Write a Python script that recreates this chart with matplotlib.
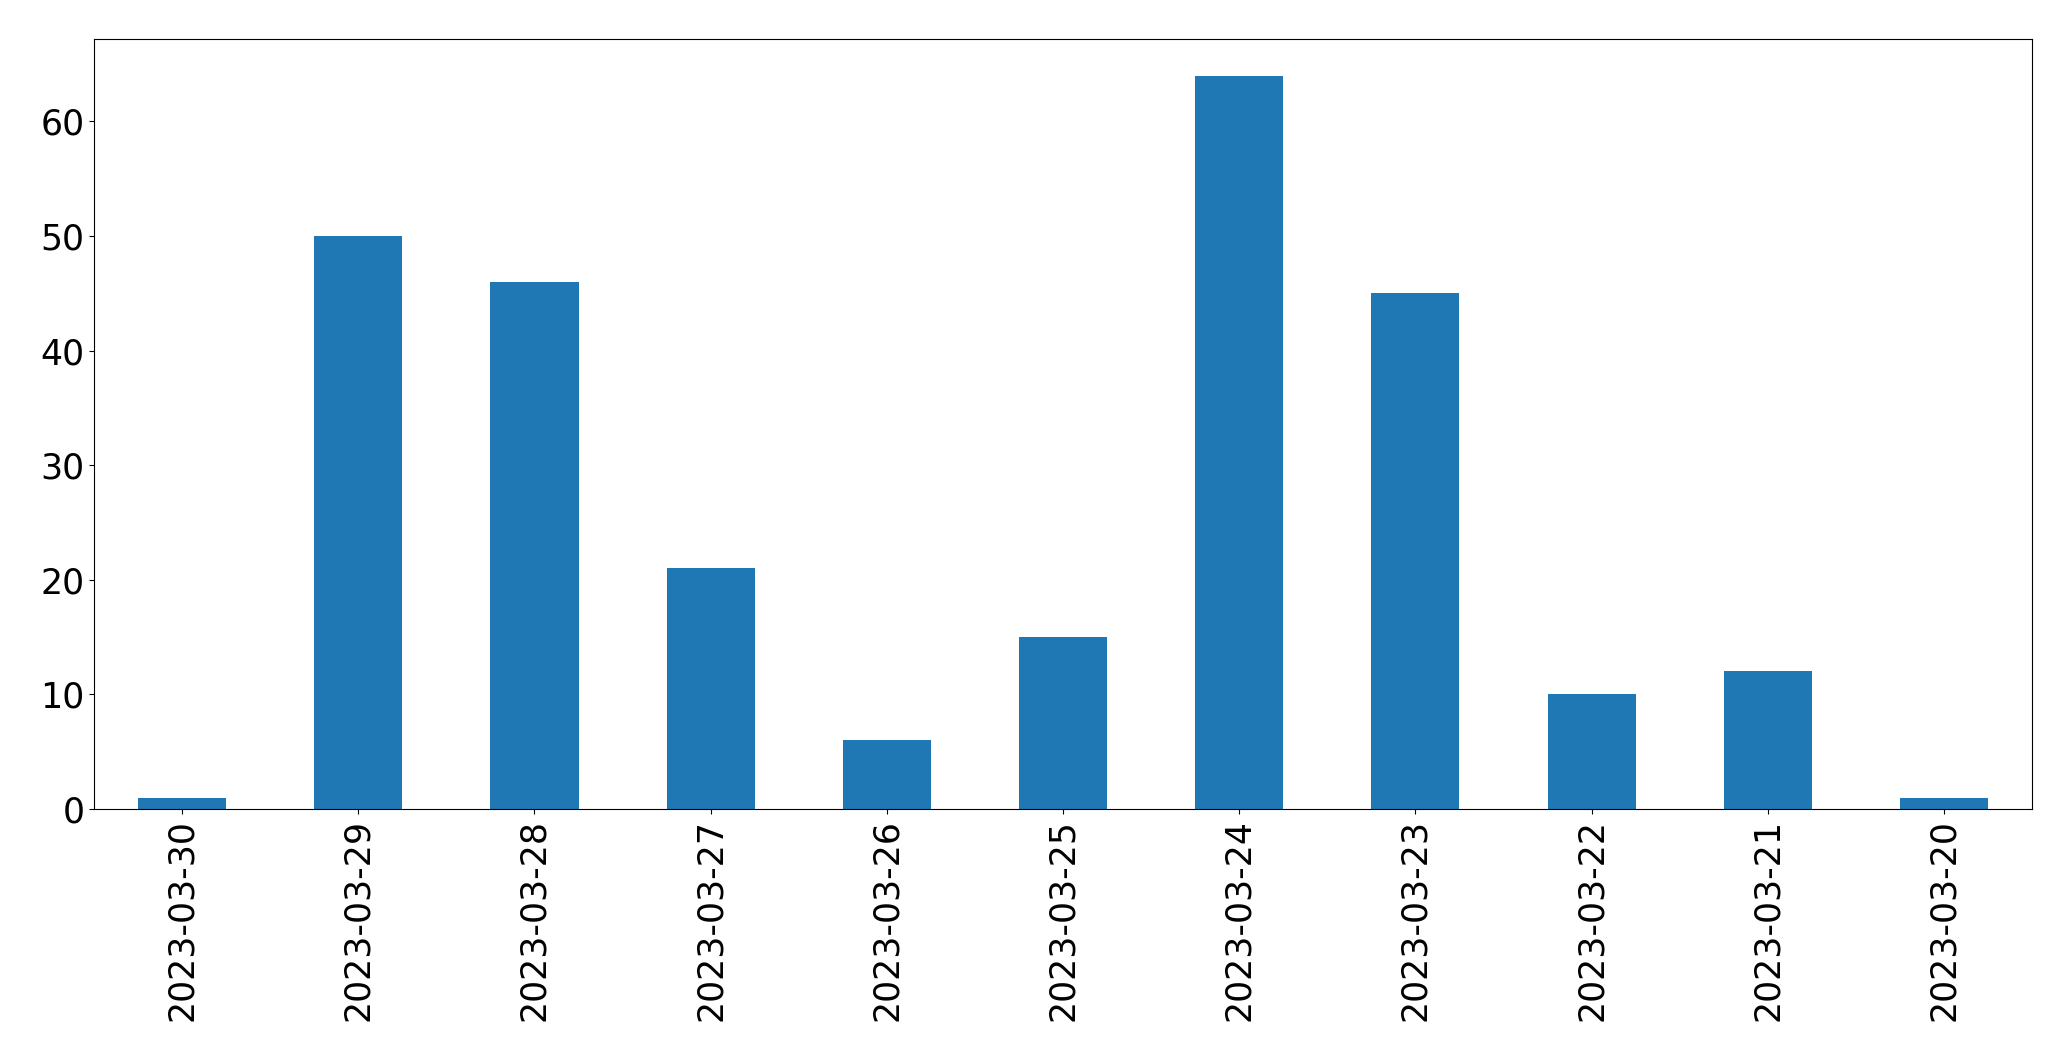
import pandas as pd
import matplotlib
matplotlib.use("Agg")
import matplotlib.pyplot as plt

dates = ["2023-03-30", "2023-03-29", "2023-03-28", "2023-03-27", "2023-03-26",
         "2023-03-25", "2023-03-24", "2023-03-23", "2023-03-22", "2023-03-21",
         "2023-03-20"]
counts = [1, 50, 46, 21, 6, 15, 64, 45, 10, 12, 1]

s = pd.Series(counts, index=dates)

fig, ax = plt.subplots(figsize=(20.71, 10.61), dpi=100)
s.plot(kind="bar", ax=ax, fontsize=25)
fig.subplots_adjust(left=0.0454, right=0.9812, top=0.9633, bottom=0.2375)
fig.savefig("out.png", dpi=100)
